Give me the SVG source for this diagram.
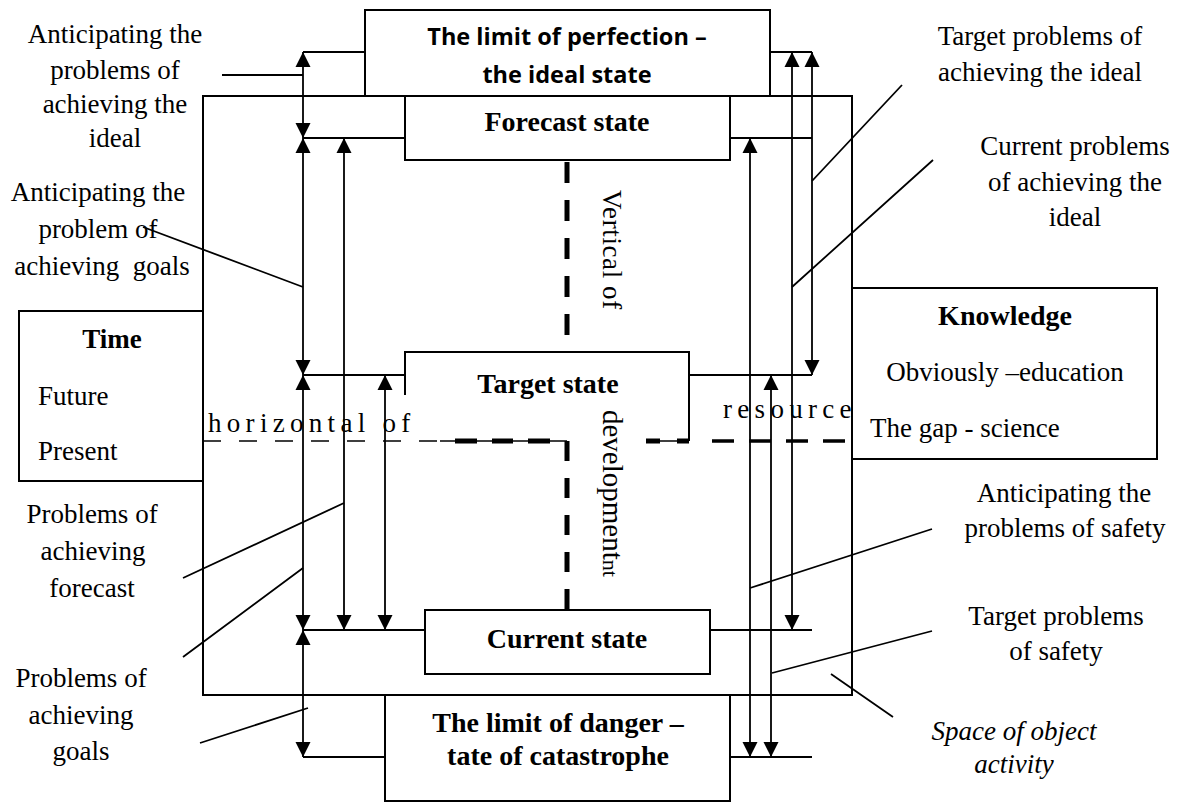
<svg xmlns="http://www.w3.org/2000/svg" width="1182" height="803" viewBox="0 0 1182 803">
<style>
.box{fill:none;stroke:#000;stroke-width:2}
.ln{fill:none;stroke:#000;stroke-width:1.8}
.arr{fill:none;stroke:#000;stroke-width:1.8;marker-start:url(#ah);marker-end:url(#ah)}
.t{font-family:"Liberation Serif","Times New Roman",serif;font-size:27px;fill:#000}
.tb{font-family:"Liberation Serif","Times New Roman",serif;font-size:28px;font-weight:bold;fill:#000}
.ts{font-family:"Open Sans","Liberation Sans",sans-serif;font-size:23.5px;font-weight:bold;fill:#000}
.c{text-anchor:middle}
.sp{letter-spacing:5.3px}
</style>
<defs>
<marker id="ah" viewBox="0 0 15 16" refX="15" refY="8" markerWidth="15" markerHeight="16" markerUnits="userSpaceOnUse" orient="auto-start-reverse">
<path d="M0,0.5 L15,8 L0,15.5 Z" fill="#000"/>
</marker>
</defs>
<rect width="1182" height="803" fill="#fff"/>

<g id="space">
<rect class="box" x="203" y="96" width="649" height="599"/>
</g>

<g id="axes">
<line x1="567" y1="162" x2="567" y2="352" stroke="#000" stroke-width="5" stroke-dasharray="21 17"/>
<line x1="567" y1="441" x2="567" y2="610" stroke="#000" stroke-width="5" stroke-dasharray="20 17"/>
<line x1="203" y1="441" x2="440" y2="441" stroke="#000" stroke-width="1.3" stroke-dasharray="18 18"/>
<line x1="440" y1="441" x2="567" y2="441" stroke="#000" stroke-width="1.3"/>
<path d="M455,441H477M492,441H513M528,441H550M646,441H660M677,441H689" stroke="#000" stroke-width="5"/>
<line x1="646" y1="441" x2="689" y2="441" stroke="#000" stroke-width="1.3"/>
<line x1="712" y1="441" x2="852" y2="441" stroke="#000" stroke-width="3.5" stroke-dasharray="22 15"/>
<text class="t sp" x="208" y="432">horizontal of</text>
<text class="t sp" x="723" y="418">resource</text>
<text class="t" transform="translate(603,190) rotate(90)" style="letter-spacing:0.6px">Vertical of</text>
<text class="t" transform="translate(603,410) rotate(90)" style="font-size:29px">development<tspan style="font-size:22px">nt</tspan></text>
</g>

<g id="ideal">
<rect class="box" x="365" y="10" width="405" height="86" fill="#fff"/>
<text class="ts c" x="567" y="45">The limit of perfection –</text>
<text class="ts c" x="567" y="83">the ideal state</text>
</g>

<g id="forecast">
<rect class="box" x="405" y="96" width="325" height="64" fill="#fff"/>
<text class="tb c" x="567" y="131">Forecast state</text>
</g>

<g id="target">
<path class="box" d="M405,395V352H689V441"/>
<text class="tb c" x="548" y="393">Target state</text>
</g>

<g id="current">
<rect class="box" x="425" y="610" width="285" height="64" fill="#fff"/>
<text class="tb c" x="567" y="648">Current state</text>
</g>

<g id="danger">
<rect class="box" x="385" y="695" width="345" height="106" fill="#fff"/>
<text class="tb c" x="558" y="732">The limit of danger –</text>
<text class="tb c" x="558" y="765">tate of catastrophe</text>
</g>

<g id="time">
<rect class="box" x="19" y="311" width="184" height="170" fill="#fff"/>
<text class="tb c" x="112" y="348" style="font-size:27px">Time</text>
<text class="t" x="38" y="405">Future</text>
<text class="t" x="38" y="460">Present</text>
</g>

<g id="knowledge">
<rect class="box" x="852" y="288" width="305" height="171" fill="#fff"/>
<text class="tb c" x="1005" y="325">Knowledge</text>
<text class="t c" x="1005" y="381">Obviously –education</text>
<text class="t" x="870" y="437">The gap - science</text>
</g>

<g id="connectors">
<path class="ln" d="M303,52H365M303,138H405M303,375H405M303,630H425M303,757H385"/>
<path class="ln" d="M770,52H812M730,138H812M689,375H812M710,630H812M730,757H812"/>
<line class="arr" x1="303" y1="52" x2="303" y2="138"/>
<line class="arr" x1="303" y1="138" x2="303" y2="375"/>
<line class="arr" x1="303" y1="375" x2="303" y2="630"/>
<line class="arr" x1="303" y1="630" x2="303" y2="757"/>
<line class="arr" x1="344" y1="138" x2="344" y2="630"/>
<line class="arr" x1="385" y1="375" x2="385" y2="630"/>
<line class="arr" x1="750" y1="138" x2="750" y2="757"/>
<line class="arr" x1="771" y1="375" x2="771" y2="757"/>
<line class="arr" x1="792" y1="52" x2="792" y2="630"/>
<line class="arr" x1="812" y1="52" x2="812" y2="375"/>
<path class="ln" d="M222,75H303M143,227L303,287M183,578L344,503M183,657L303,568M200,743L308,708"/>
<path class="ln" d="M812,181L902,85M792,287L933,160M750,588L932,529M772,673L932,631M831,674L893,717"/>
</g>

<g id="labels">
<text class="t c" x="115" y="43">Anticipating the</text>
<text class="t c" x="115" y="79">problems of</text>
<text class="t c" x="115" y="113">achieving the</text>
<text class="t c" x="115" y="147">ideal</text>
<text class="t c" x="98" y="201">Anticipating the</text>
<text class="t c" x="98" y="238">problem of</text>
<text class="t c" x="102" y="275" xml:space="preserve">achieving  goals</text>
<text class="t c" x="92" y="523">Problems of</text>
<text class="t c" x="93" y="560">achieving</text>
<text class="t c" x="92" y="597">forecast</text>
<text class="t c" x="81" y="687">Problems of</text>
<text class="t c" x="81" y="724">achieving</text>
<text class="t c" x="81" y="760">goals</text>
<text class="t c" x="1040" y="45">Target problems of</text>
<text class="t c" x="1040" y="81">achieving the ideal</text>
<text class="t c" x="1075" y="155">Current problems</text>
<text class="t c" x="1075" y="191">of achieving the</text>
<text class="t c" x="1075" y="226">ideal</text>
<text class="t c" x="1064" y="502">Anticipating the</text>
<text class="t c" x="1065" y="537">problems of safety</text>
<text class="t c" x="1056" y="625">Target problems</text>
<text class="t c" x="1056" y="660">of safety</text>
<text class="t c" x="1014" y="740" style="font-style:italic">Space of object</text>
<text class="t c" x="1014" y="773" style="font-style:italic">activity</text>
</g>
</svg>
